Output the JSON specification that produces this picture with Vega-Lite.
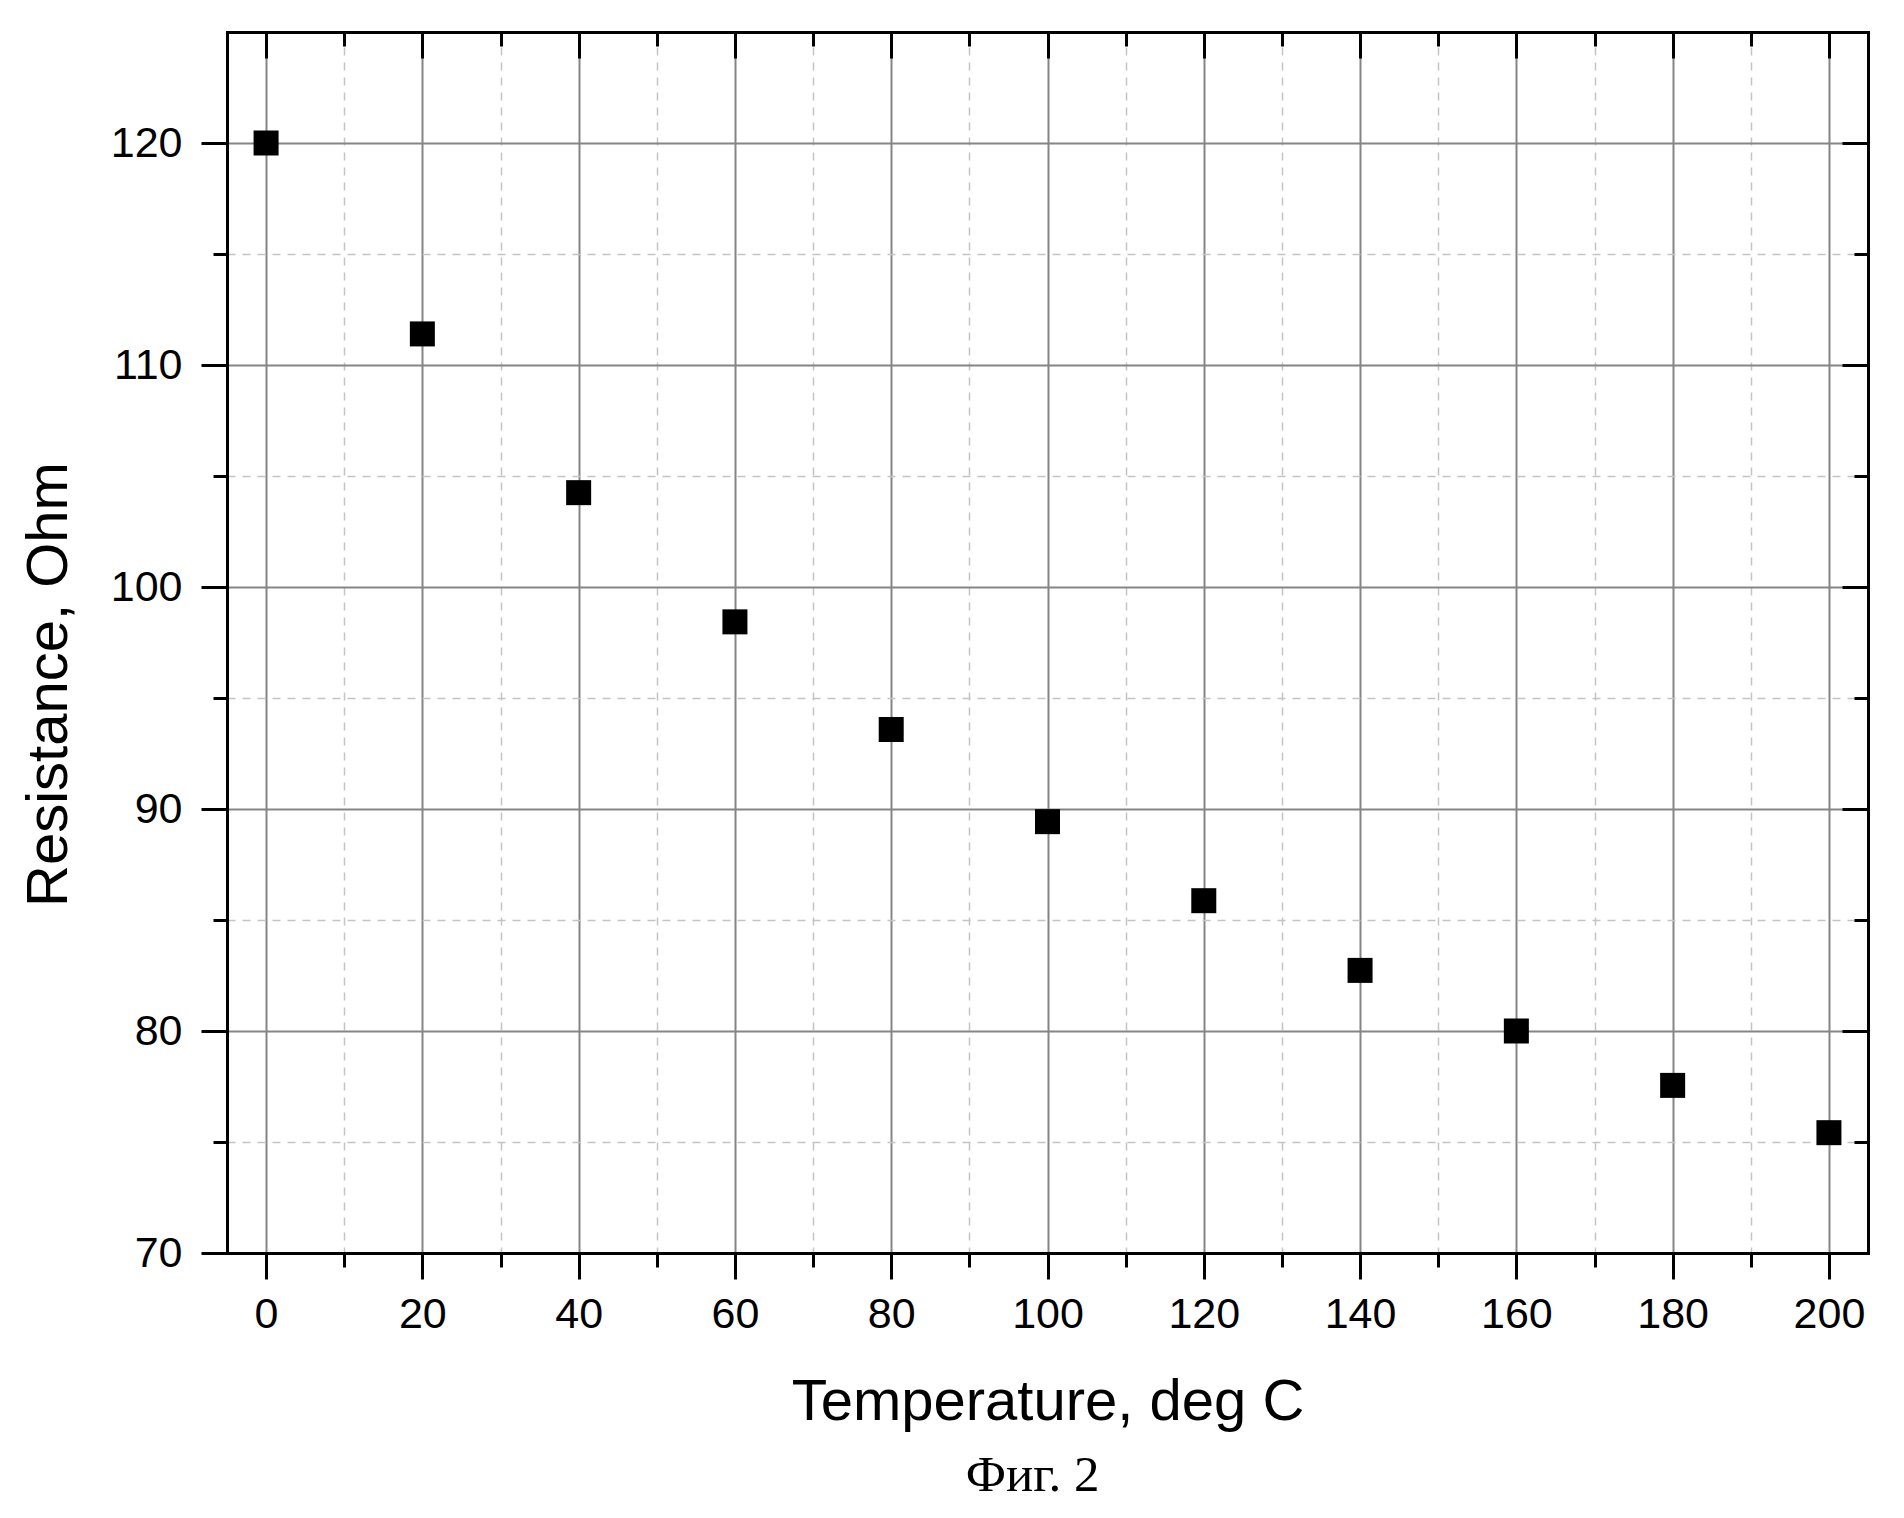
{
  "$schema": "https://vega.github.io/schema/vega-lite/v6.json",
  "autosize": "none",
  "padding": {"left": 227, "top": 32, "right": 36, "bottom": 265},
  "width": 1641,
  "height": 1221,
  "background": "white",
  "title": {
    "text": "Фиг. 2",
    "orient": "bottom",
    "anchor": "middle",
    "frame": "group",
    "font": "Liberation Serif",
    "fontSize": 51,
    "fontWeight": "normal",
    "color": "black",
    "offset": 20,
    "dx": -15
  },
  "data": {
    "values": [
      {"temp": 0, "res": 120.0},
      {"temp": 20, "res": 111.4},
      {"temp": 40, "res": 104.25},
      {"temp": 60, "res": 98.43},
      {"temp": 80, "res": 93.58},
      {"temp": 100, "res": 89.43},
      {"temp": 120, "res": 85.87},
      {"temp": 140, "res": 82.73},
      {"temp": 160, "res": 80.0},
      {"temp": 180, "res": 77.55},
      {"temp": 200, "res": 75.42}
    ]
  },
  "config": {
    "view": {"stroke": null},
    "axis": {
      "labelFont": "Liberation Sans",
      "labelFontSize": 43,
      "labelColor": "black",
      "titleFont": "Liberation Sans",
      "titleFontSize": 58,
      "titleFontWeight": "normal",
      "titleColor": "black",
      "tickColor": "black",
      "tickWidth": 3,
      "domainColor": "black",
      "domainWidth": 3,
      "domainCap": "square"
    }
  },
  "resolve": {"axis": {"x": "independent", "y": "independent"}},
  "layer": [
    {
      "mark": {"type": "point", "opacity": 0},
      "encoding": {
        "x": {
          "field": "temp", "type": "quantitative",
          "scale": {"domain": [-5, 205], "nice": false, "zero": false},
          "axis": {
            "orient": "bottom", "values": [10, 30, 50, 70, 90, 110, 130, 150, 170, 190],
            "grid": true, "gridColor": "#c4c4c4", "gridWidth": 1.5, "gridDash": [8, 7],
            "tickSize": 14, "labels": false, "domain": false, "title": null
          }
        },
        "y": {
          "field": "res", "type": "quantitative",
          "scale": {"domain": [70, 125], "nice": false, "zero": false},
          "axis": {
            "orient": "left", "values": [75, 85, 95, 105, 115],
            "grid": true, "gridColor": "#c4c4c4", "gridWidth": 1.5, "gridDash": [8, 7],
            "tickSize": 14, "labels": false, "domain": false, "title": null
          }
        }
      }
    },
    {
      "mark": {"type": "point", "opacity": 0},
      "encoding": {
        "x": {
          "field": "temp", "type": "quantitative",
          "axis": {
            "orient": "top", "values": [10, 30, 50, 70, 90, 110, 130, 150, 170, 190],
            "grid": false, "tickSize": -14, "labels": false, "domain": false, "title": null
          }
        },
        "y": {
          "field": "res", "type": "quantitative",
          "axis": {
            "orient": "right", "values": [75, 85, 95, 105, 115],
            "grid": false, "tickSize": -14, "labels": false, "domain": false, "title": null
          }
        }
      }
    },
    {
      "mark": {"type": "point", "opacity": 0},
      "encoding": {
        "x": {
          "field": "temp", "type": "quantitative",
          "axis": {
            "orient": "top", "values": [0, 20, 40, 60, 80, 100, 120, 140, 160, 180, 200],
            "grid": false, "tickSize": -26, "labels": false, "domain": true, "title": null
          }
        },
        "y": {
          "field": "res", "type": "quantitative",
          "axis": {
            "orient": "right", "values": [70, 80, 90, 100, 110, 120],
            "grid": false, "tickSize": -26, "labels": false, "domain": true, "title": null
          }
        }
      }
    },
    {
      "mark": {"type": "point", "shape": "square", "filled": true, "color": "black", "size": 625, "opacity": 1},
      "encoding": {
        "x": {
          "field": "temp", "type": "quantitative",
          "axis": {
            "orient": "bottom", "values": [0, 20, 40, 60, 80, 100, 120, 140, 160, 180, 200],
            "grid": true, "gridColor": "#858585", "gridWidth": 2,
            "tickSize": 26, "labelPadding": 14, "domain": true,
            "title": "Temperature, deg C", "titleBaseline": "alphabetic", "titleY": 166
          }
        },
        "y": {
          "field": "res", "type": "quantitative",
          "axis": {
            "orient": "left", "values": [70, 80, 90, 100, 110, 120],
            "grid": true, "gridColor": "#858585", "gridWidth": 2,
            "tickSize": 26, "labelPadding": 19, "domain": true,
            "title": "Resistance, Ohm", "titleBaseline": "middle", "titleX": -178, "titleY": 652
          }
        }
      }
    }
  ]
}
